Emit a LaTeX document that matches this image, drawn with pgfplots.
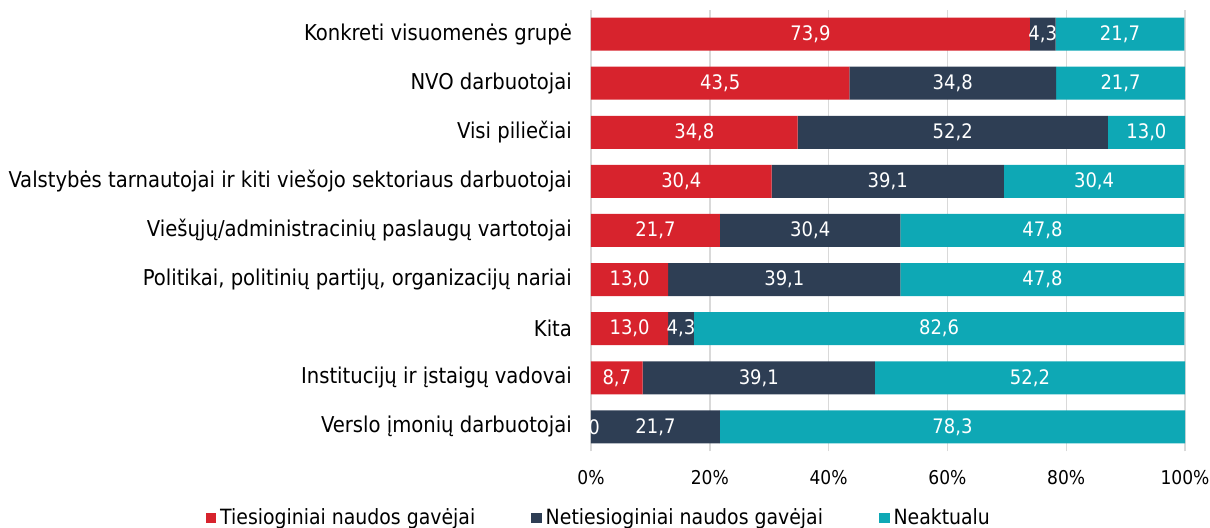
\documentclass[border=0pt]{standalone}
\usepackage{pgfplots}
\pgfplotsset{compat=1.18}
\usepackage{pgfplotstable}
\usepackage{fontspec}
\setmainfont{DejaVu Sans Condensed}
\definecolor{cred}{RGB}{215,35,45}
\definecolor{cnavy}{RGB}{46,62,84}
\definecolor{cteal}{RGB}{14,168,181}
\definecolor{cgrid}{RGB}{217,217,217}
\pgfplotstableread{
y a b c la lb lc
0 0 21.7 78.3 0 21,7 78,3
1 8.7 39.1 52.2 8,7 39,1 52,2
2 13.0 4.3 82.6 13,0 4,3 82,6
3 13.0 39.1 47.8 13,0 39,1 47,8
4 21.7 30.4 47.8 21,7 30,4 47,8
5 30.4 39.1 30.4 30,4 39,1 30,4
6 34.8 52.2 13.0 34,8 52,2 13,0
7 43.5 34.8 21.7 43,5 34,8 21,7
8 73.9 4.3 21.7 73,9 4,3 21,7
}\data
\begin{document}
\begin{tikzpicture}[font=\fontsize{10.5pt}{12pt}\selectfont]
\path[use as bounding box] (0,0) rectangle (605pt,264pt);
\begin{axis}[at={(295.5pt,38.25pt)}, anchor=south west, scale only axis,
  width=297pt, height=221pt,
  xbar stacked, bar width=16.5pt,
  xmin=0, xmax=100, ymin=-0.5, ymax=8.5,
  ytick={0,...,8},
  yticklabels={Verslo įmonių darbuotojai, Institucijų ir įstaigų vadovai, Kita,
    {Politikai, politinių partijų, organizacijų nariai\ }, Viešųjų/administracinių paslaugų vartotojai,
    Valstybės tarnautojai ir kiti viešojo sektoriaus darbuotojai, Visi piliečiai,
    NVO darbuotojai, Konkreti visuomenės grupė},
  xtick={0,20,...,100},
  xticklabel={\pgfmathprintnumber{\tick}\%},
  /pgf/number format/assume math mode=true,
  xmajorgrids, grid style={cgrid, line width=0.7pt},
  axis line style={draw=none}, major tick style={draw=none},
  yticklabel style={xshift=-6pt, font=\fontsize{10.9pt}{12pt}\selectfont},
  xticklabel style={yshift=-6pt, font=\fontsize{9.5pt}{11pt}\selectfont},
  legend columns=3,
  legend style={at={(axis description cs:0.015,-0.1505)}, anchor=center, draw=none,
    font=\fontsize{10.5pt}{12pt}\selectfont,
    /tikz/every even column/.append style={column sep=26pt}},
  legend image code/.code={\fill[#1] (0pt,-2.6pt) rectangle (5.2pt,2.6pt);},
]
\addplot[fill=cred, draw=none] table[x=a, y=y] {\data};
\addlegendentry{Tiesioginiai naudos gavėjai}
\addplot[fill=cnavy, draw=none] table[x=b, y=y] {\data};
\addlegendentry{Netiesioginiai naudos gavėjai}
\addplot[fill=cteal, draw=none] table[x=c, y=y] {\data};
\addlegendentry{Neaktualu}
\end{axis}
\begin{axis}[at={(295.5pt,38.25pt)}, anchor=south west, scale only axis,
  width=297pt, height=221pt,
  xmin=0, xmax=100, ymin=-0.5, ymax=8.5, axis lines=none,
  nodes near coords, point meta=explicit symbolic,
  every node near coord/.style={anchor=center, text=white, inner sep=0pt,
    font=\fontsize{10pt}{12pt}\selectfont},
]
\addplot[draw=none, mark=none] table[x expr={max(\thisrow{a}/2,0.5)}, y=y, meta=la] {\data};
\addplot[draw=none, mark=none] table[x expr=\thisrow{a}+\thisrow{b}/2, y=y, meta=lb] {\data};
\addplot[draw=none, mark=none] table[x expr=\thisrow{a}+\thisrow{b}+\thisrow{c}/2, y=y, meta=lc] {\data};
\end{axis}
\end{tikzpicture}
\end{document}
